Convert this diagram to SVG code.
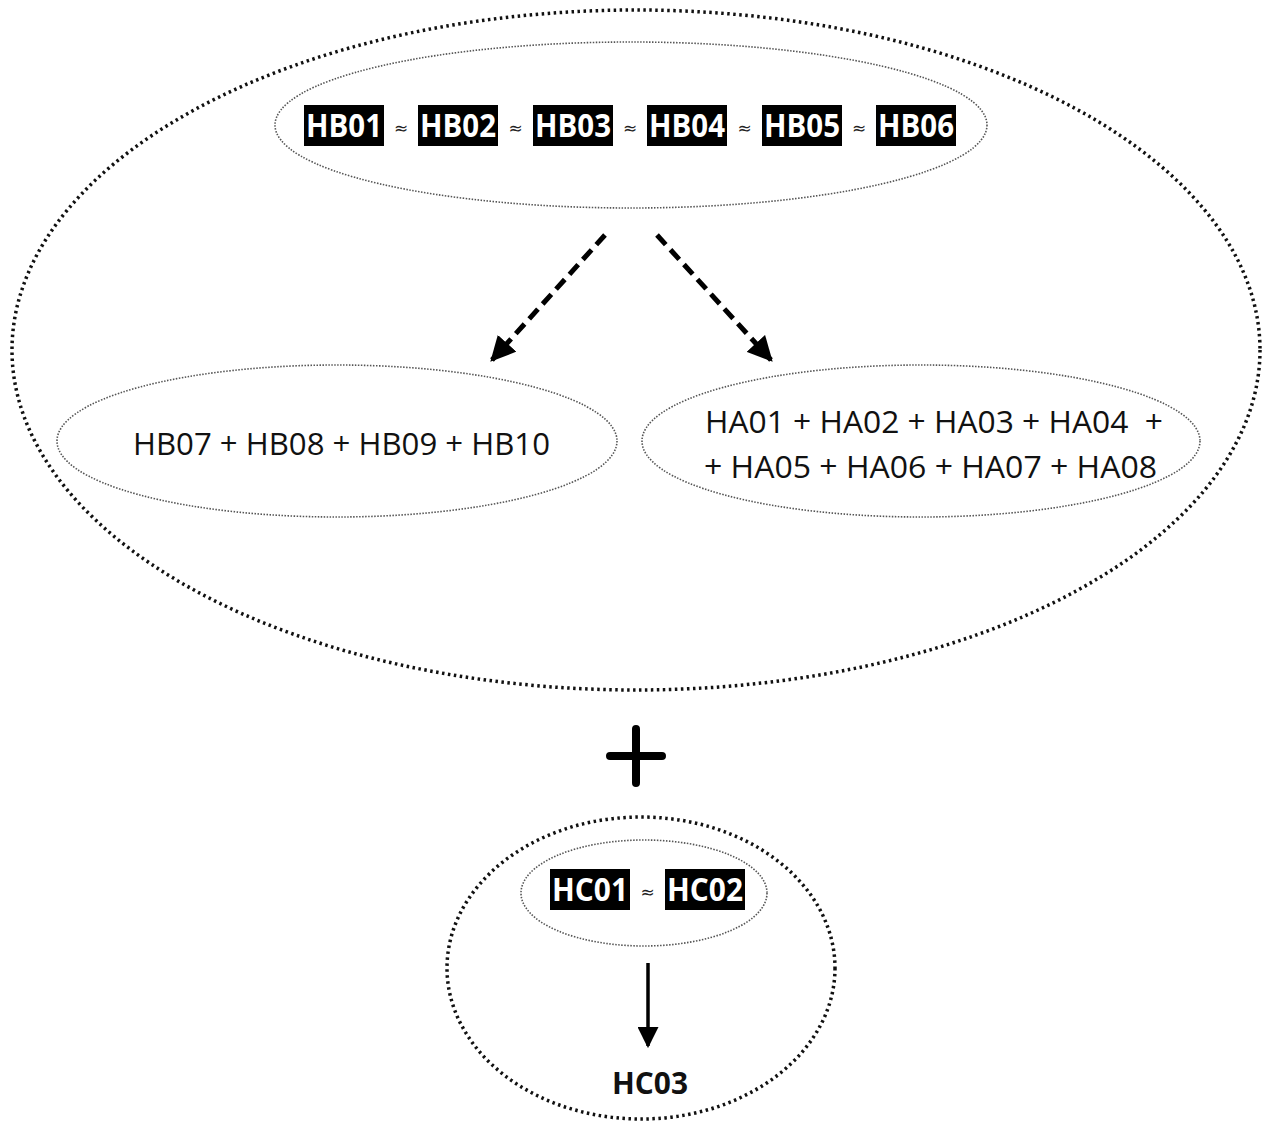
<svg xmlns="http://www.w3.org/2000/svg" width="1262" height="1124" viewBox="0 0 1262 1124">
<defs>
<style>
.outer{fill:none;stroke:#111;stroke-width:3.5;stroke-dasharray:2.5 3.5;stroke-linecap:butt}
.inner{fill:none;stroke:#555;stroke-width:1.6;stroke-dasharray:1.5 1.5}
.box{fill:#000}
.bt{font-family:"Open Sans","Liberation Sans",sans-serif;font-weight:bold;font-size:33px;fill:#fff;text-anchor:middle}
.ap{font-family:"DejaVu Sans",sans-serif;font-size:17px;fill:#222;text-anchor:middle}
.nt{font-family:"Open Sans","Liberation Sans",sans-serif;font-size:31px;fill:#111}
.dash{stroke:#000;stroke-width:5;stroke-dasharray:13 7;fill:none}
</style>
<marker id="ah" viewBox="0 0 10 10" refX="9" refY="5" markerWidth="5" markerHeight="5" orient="auto" markerUnits="strokeWidth">
<path d="M0,0 L10,5 L0,10 z" fill="#000"/>
</marker>
<marker id="ah2" viewBox="0 0 10 10" refX="9" refY="5" markerWidth="6" markerHeight="6" orient="auto" markerUnits="strokeWidth">
<path d="M0,0 L10,5 L0,10 z" fill="#000"/>
</marker>
</defs>
<rect width="1262" height="1124" fill="#fff"/>

<g id="group-top">
<ellipse class="outer" cx="636" cy="350" rx="624" ry="340"/>
</g>

<g id="node-hb01-06">
<ellipse class="inner" cx="631" cy="125" rx="356" ry="83"/>
<rect class="box" x="304" y="105" width="80" height="41"/>
<rect class="box" x="418" y="105" width="80" height="41"/>
<rect class="box" x="533" y="105" width="80" height="41"/>
<rect class="box" x="647" y="105" width="80" height="41"/>
<rect class="box" x="762" y="105" width="80" height="41"/>
<rect class="box" x="876" y="105" width="80" height="41"/>
<text class="bt" x="344" y="137" textLength="76" lengthAdjust="spacingAndGlyphs">HB01</text>
<text class="bt" x="458" y="137" textLength="76" lengthAdjust="spacingAndGlyphs">HB02</text>
<text class="bt" x="573" y="137" textLength="76" lengthAdjust="spacingAndGlyphs">HB03</text>
<text class="bt" x="687" y="137" textLength="76" lengthAdjust="spacingAndGlyphs">HB04</text>
<text class="bt" x="802" y="137" textLength="76" lengthAdjust="spacingAndGlyphs">HB05</text>
<text class="bt" x="916" y="137" textLength="76" lengthAdjust="spacingAndGlyphs">HB06</text>
<text class="ap" x="401" y="134">≈</text>
<text class="ap" x="515.5" y="134">≈</text>
<text class="ap" x="630" y="134">≈</text>
<text class="ap" x="744.5" y="134">≈</text>
<text class="ap" x="859" y="134">≈</text>
</g>

<g id="node-hb07-10">
<ellipse class="inner" cx="337" cy="441" rx="280" ry="76"/>
<text class="nt" x="133" y="455" textLength="417" lengthAdjust="spacingAndGlyphs">HB07 + HB08 + HB09 + HB10</text>
</g>

<g id="node-ha01-08">
<ellipse class="inner" cx="921" cy="441" rx="279" ry="76"/>
<text class="nt" x="705" y="433" textLength="458" lengthAdjust="spacingAndGlyphs" xml:space="preserve">HA01 + HA02 + HA03 + HA04  +</text>
<text class="nt" x="704" y="478" textLength="453" lengthAdjust="spacingAndGlyphs">+ HA05 + HA06 + HA07 + HA08</text>
</g>

<g id="plus">
<path d="M610,756 H662 M636,729 V783" stroke="#000" stroke-width="8" stroke-linecap="round" fill="none"/>
</g>

<g id="group-bottom">
<ellipse class="outer" cx="641" cy="968" rx="194" ry="151"/>
</g>

<g id="node-hc01-02">
<ellipse class="inner" cx="644" cy="893" rx="123" ry="53"/>
<rect class="box" x="550" y="869" width="80" height="41"/>
<rect class="box" x="665" y="869" width="80" height="41"/>
<text class="bt" x="590" y="901" textLength="76" lengthAdjust="spacingAndGlyphs">HC01</text>
<text class="bt" x="705" y="901" textLength="76" lengthAdjust="spacingAndGlyphs">HC02</text>
<text class="ap" x="647.5" y="898">≈</text>
</g>

<g id="node-hc03">
<text x="650" y="1094" text-anchor="middle" font-family="'Open Sans','Liberation Sans',sans-serif" font-weight="bold" font-size="31" fill="#111" textLength="76" lengthAdjust="spacingAndGlyphs">HC03</text>
</g>

<g id="connectors">
<line class="dash" x1="605" y1="235" x2="492" y2="360" marker-end="url(#ah)"/>
<line class="dash" x1="657" y1="235" x2="771" y2="360" marker-end="url(#ah)"/>
<line x1="648" y1="963" x2="648" y2="1046" stroke="#000" stroke-width="3.5" marker-end="url(#ah2)"/>
</g>
</svg>
